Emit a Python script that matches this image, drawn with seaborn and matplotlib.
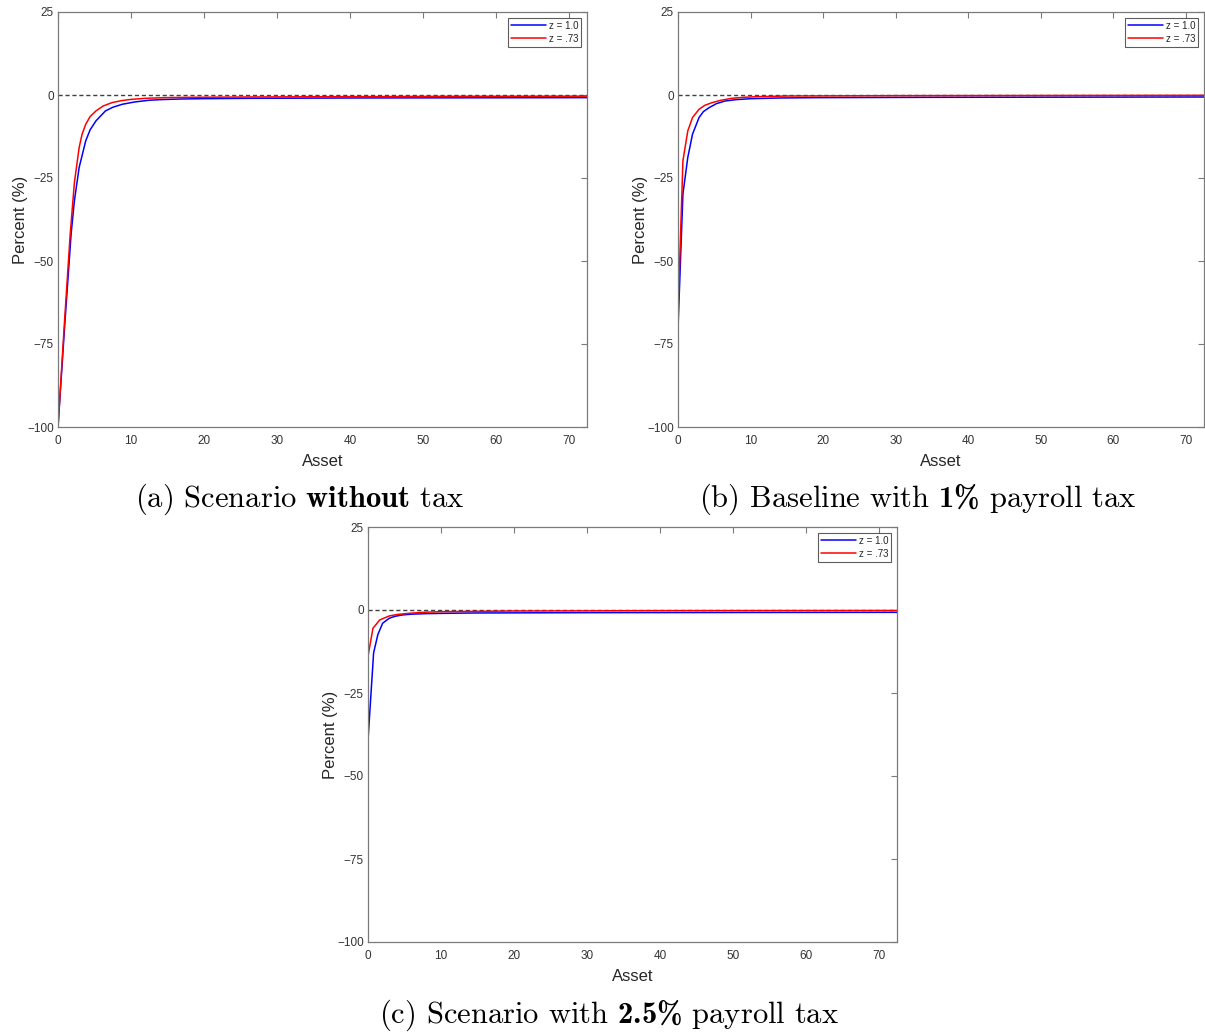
import numpy as np
import pandas as pd
import seaborn as sns
import matplotlib
matplotlib.use("Agg")
import matplotlib.pyplot as plt

sns.set_theme(style="white")
plt.rcParams['font.family'] = ['Liberation Sans', 'DejaVu Sans']
plt.rcParams['mathtext.fontset'] = 'custom'
plt.rcParams['mathtext.rm'] = 'cmr10'
plt.rcParams['mathtext.bf'] = 'cmb10'

# ---- data ----
# Panel (a): scenario without tax
a_blue_x = [0, 0.9, 1.8, 2.25, 2.9, 3.8, 4.4, 5.2, 6.5, 7.5, 8.8, 10.5, 12.4, 14, 16.9, 20, 25.9, 40, 55, 72.5]
a_blue_y = [-100, -70, -41.8, -31.8, -21.8, -13.8, -10.5, -7.8, -4.8, -3.7, -2.8, -2.1, -1.6, -1.4, -1.2, -1.1, -1.0, -0.9, -0.85, -0.8]
a_red_x = [0, 0.9, 1.67, 2.25, 2.9, 3.3, 3.8, 4.4, 5.2, 6.2, 7.4, 8.7, 10.1, 12, 14.6, 18, 25.9, 40, 55, 72.5]
a_red_y = [-100, -68, -42, -26.3, -15.8, -11.8, -8.8, -6.5, -4.8, -3.3, -2.3, -1.7, -1.3, -1.0, -0.8, -0.7, -0.6, -0.5, -0.4, -0.35]

# Panel (b): baseline with 1% payroll tax
b_blue_x = [0, 0.68, 1.35, 2.0, 2.9, 3.5, 4.3, 5.3, 6.5, 8.0, 10.1, 14, 19, 35, 55, 72.5]
b_blue_y = [-70.3, -29.8, -18.8, -11.8, -6.8, -5.0, -3.8, -2.6, -1.8, -1.4, -1.1, -0.9, -0.8, -0.7, -0.65, -0.6]
b_red_x = [0, 0.68, 1.35, 2.0, 2.9, 3.7, 4.7, 5.9, 7.4, 9.0, 11, 15, 30, 50, 72.5]
b_red_y = [-65.8, -19.8, -10.8, -6.8, -4.3, -3.1, -2.3, -1.6, -1.0, -0.7, -0.5, -0.3, -0.2, -0.15, -0.1]

# Panel (c): scenario with 2.5% payroll tax
c_blue_x = [0, 0.77, 1.35, 2.0, 2.9, 3.7, 4.7, 6.0, 7.9, 10.5, 14.6, 30, 50, 72.5]
c_blue_y = [-39.2, -12.9, -7.4, -4.0, -2.5, -1.9, -1.5, -1.25, -1.1, -1.0, -0.9, -0.8, -0.75, -0.7]
c_red_x = [0, 0.68, 1.6, 2.9, 4.0, 5.6, 7.5, 10.1, 20, 40, 72.5]
c_red_y = [-13.9, -5.5, -3.0, -1.8, -1.35, -1.0, -0.7, -0.5, -0.3, -0.2, -0.15]

series_labels = ["z = 1.0", "z = .73"]
x_ticks = [0, 10, 20, 30, 40, 50, 60, 70]
y_ticks = [-100, -75, -50, -25, 0, 25]
captions = [r"$\mathrm{(a)\ Scenario\ }\mathbf{without}\mathrm{\ tax}$",
            r"$\mathrm{(b)\ Baseline\ with\ }\mathbf{1\%}\mathrm{\ payroll\ tax}$",
            r"$\mathrm{(c)\ Scenario\ with\ }\mathbf{2.5\%}\mathrm{\ payroll\ tax}$"]

panels = [(a_blue_x, a_blue_y, a_red_x, a_red_y),
          (b_blue_x, b_blue_y, b_red_x, b_red_y),
          (c_blue_x, c_blue_y, c_red_x, c_red_y)]

W, H = 1205, 1033
fig = plt.figure(figsize=(W / 100, H / 100), dpi=100)

# axes boxes in pixels: left, right, top, bottom
boxes = [(58, 587, 12, 427), (678, 1204, 12, 427), (368, 897, 527, 942)]
cap_pos = [(300, 499), (918, 499), (609, 1015)]

gray = '#7a7a7a'
for (bx, by, rx, ry), (l, r, t, b), cap, cp in zip(panels, boxes, captions, cap_pos):
    ax = fig.add_axes([l / W, 1 - b / H, (r - l) / W, (b - t) / H])
    ax.axhline(0, color='#404040', ls='--', lw=1.0, dashes=(3, 2), zorder=1)
    sns.lineplot(x=bx, y=by, ax=ax, color='#0000ff', lw=1.1, label=series_labels[0],
                 estimator=None, sort=False)
    sns.lineplot(x=rx, y=ry, ax=ax, color='#ff0000', lw=1.1, label=series_labels[1],
                 estimator=None, sort=False)
    ax.set_xlim(0, 72.5)
    ax.set_ylim(-100, 25)
    ax.set_xticks(x_ticks)
    ax.set_yticks(y_ticks)
    ax.set_xlabel("Asset", fontsize=12, color='#262626', labelpad=5)
    ax.set_ylabel("Percent (%)", fontsize=12, color='#262626', labelpad=-1)
    ax.tick_params(direction='in', length=4, width=0.8, colors=gray, labelcolor='#333333',
                   labelsize=8.5, top=True, right=True)
    ax.tick_params(axis='x', pad=6)
    ax.tick_params(axis='y', pad=3)
    for s in ax.spines.values():
        s.set_color(gray)
        s.set_linewidth(0.9)
        s.set_visible(True)
    leg = ax.legend(loc='upper right', fontsize=7, frameon=True, fancybox=False,
                    edgecolor='#333333', handlelength=3.6, borderpad=0.3,
                    labelspacing=0.3, handletextpad=0.3, borderaxespad=0.6)
    leg.get_frame().set_linewidth(0.8)
    fig.text(cp[0] / W, 1 - cp[1] / H, cap, ha='center', va='center', fontsize=22,
             color='black')

fig.savefig("out.png", dpi=100, facecolor='white')
